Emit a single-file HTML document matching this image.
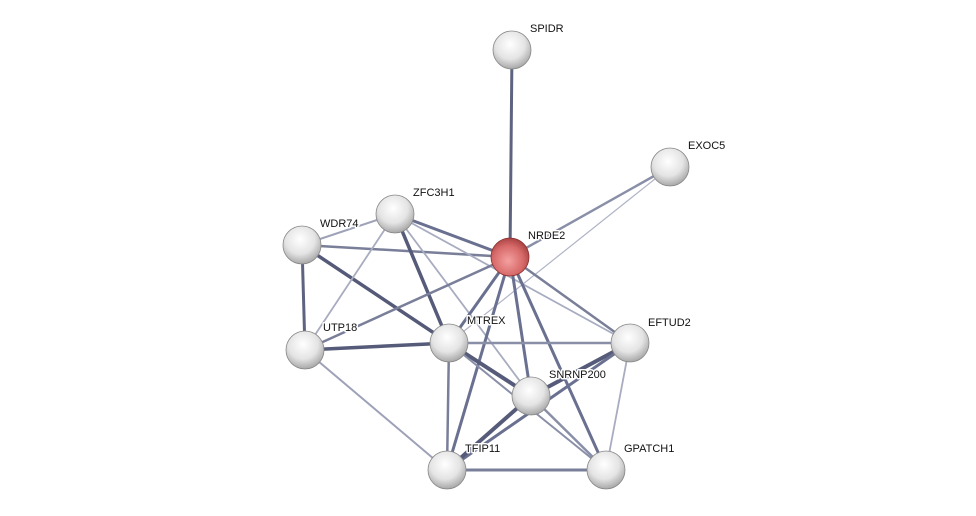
<!DOCTYPE html>
<html><head><meta charset="utf-8"><style>
body{margin:0;background:#fff;}
svg{display:block}
text{font-family:"Liberation Sans",sans-serif;font-size:11px;fill:#111;stroke:#fff;stroke-width:3px;paint-order:stroke;stroke-linejoin:round;}
</style></head><body>
<svg width="976" height="516" viewBox="0 0 976 516">
<defs>
<radialGradient id="g" cx="0.45" cy="0.35" r="0.65">
<stop offset="0" stop-color="#ffffff"/><stop offset="0.6" stop-color="#e4e4e4"/><stop offset="1" stop-color="#a8a8a8"/></radialGradient>
<radialGradient id="r" cx="0.45" cy="0.6" r="0.65">
<stop offset="0" stop-color="#f4a0a0"/><stop offset="0.6" stop-color="#d86a6a"/><stop offset="1" stop-color="#a03a3a"/></radialGradient>
</defs>
<g stroke-linecap="round">
<line x1="512" y1="50" x2="510" y2="257" stroke="#5e6480" stroke-width="3"/>
<line x1="670" y1="167" x2="510" y2="257" stroke="#8a8fa8" stroke-width="2.5"/>
<line x1="670" y1="167" x2="449" y2="343" stroke="#b0b4c6" stroke-width="1.2"/>
<line x1="302" y1="245" x2="395" y2="214" stroke="#9ea2b8" stroke-width="2"/>
<line x1="302" y1="245" x2="510" y2="257" stroke="#7a7f99" stroke-width="2.5"/>
<line x1="302" y1="245" x2="305" y2="350" stroke="#5e6480" stroke-width="3"/>
<line x1="302" y1="245" x2="449" y2="343" stroke="#545a78" stroke-width="3.5"/>
<line x1="395" y1="214" x2="510" y2="257" stroke="#6a7090" stroke-width="3"/>
<line x1="395" y1="214" x2="449" y2="343" stroke="#555b79" stroke-width="3.5"/>
<line x1="395" y1="214" x2="305" y2="350" stroke="#a8acc0" stroke-width="1.8"/>
<line x1="395" y1="214" x2="630" y2="343" stroke="#a8acc0" stroke-width="1.8"/>
<line x1="395" y1="214" x2="531" y2="396" stroke="#a8acc0" stroke-width="1.8"/>
<line x1="510" y1="257" x2="305" y2="350" stroke="#7a7f99" stroke-width="2.5"/>
<line x1="510" y1="257" x2="449" y2="343" stroke="#6a7090" stroke-width="3"/>
<line x1="510" y1="257" x2="630" y2="343" stroke="#7a7f99" stroke-width="2.5"/>
<line x1="510" y1="257" x2="531" y2="396" stroke="#6a7090" stroke-width="3"/>
<line x1="510" y1="257" x2="447" y2="470" stroke="#6a7090" stroke-width="3"/>
<line x1="510" y1="257" x2="606" y2="470" stroke="#6a7090" stroke-width="3"/>
<line x1="305" y1="350" x2="449" y2="343" stroke="#555b79" stroke-width="3.5"/>
<line x1="305" y1="350" x2="447" y2="470" stroke="#9ea2b8" stroke-width="2"/>
<line x1="449" y1="343" x2="630" y2="343" stroke="#8a8fa8" stroke-width="2.5"/>
<line x1="449" y1="343" x2="447" y2="470" stroke="#7a7f99" stroke-width="2.5"/>
<line x1="449" y1="343" x2="531" y2="396" stroke="#555b79" stroke-width="4"/>
<line x1="449" y1="343" x2="606" y2="470" stroke="#8a8fa8" stroke-width="2"/>
<line x1="630" y1="343" x2="531" y2="396" stroke="#555b79" stroke-width="4"/>
<line x1="630" y1="343" x2="447" y2="470" stroke="#6a7090" stroke-width="3"/>
<line x1="630" y1="343" x2="606" y2="470" stroke="#a8acc0" stroke-width="1.8"/>
<line x1="531" y1="396" x2="447" y2="470" stroke="#555b79" stroke-width="4"/>
<line x1="531" y1="396" x2="606" y2="470" stroke="#8a8fa8" stroke-width="2.5"/>
<line x1="447" y1="470" x2="606" y2="470" stroke="#7a7f99" stroke-width="3"/>
</g>
<g stroke="#888" stroke-width="0.8">
<circle cx="512" cy="50" r="19" fill="url(#g)"/>
<circle cx="670" cy="167" r="19" fill="url(#g)"/>
<circle cx="395" cy="214" r="19" fill="url(#g)"/>
<circle cx="302" cy="245" r="19" fill="url(#g)"/>
<circle cx="510" cy="257" r="19" fill="url(#r)" stroke="#8a3030"/>
<circle cx="305" cy="350" r="19" fill="url(#g)"/>
<circle cx="449" cy="343" r="19" fill="url(#g)"/>
<circle cx="630" cy="343" r="19" fill="url(#g)"/>
<circle cx="531" cy="396" r="19" fill="url(#g)"/>
<circle cx="447" cy="470" r="19" fill="url(#g)"/>
<circle cx="606" cy="470" r="19" fill="url(#g)"/>
</g>
<g>
<text x="530" y="32">SPIDR</text>
<text x="688" y="149">EXOC5</text>
<text x="413" y="196">ZFC3H1</text>
<text x="320" y="227">WDR74</text>
<text x="528" y="239">NRDE2</text>
<text x="323" y="331">UTP18</text>
<text x="467" y="324">MTREX</text>
<text x="648" y="326">EFTUD2</text>
<text x="549" y="378">SNRNP200</text>
<text x="465" y="452">TFIP11</text>
<text x="624" y="452">GPATCH1</text>
</g>
</svg>
</body></html>
